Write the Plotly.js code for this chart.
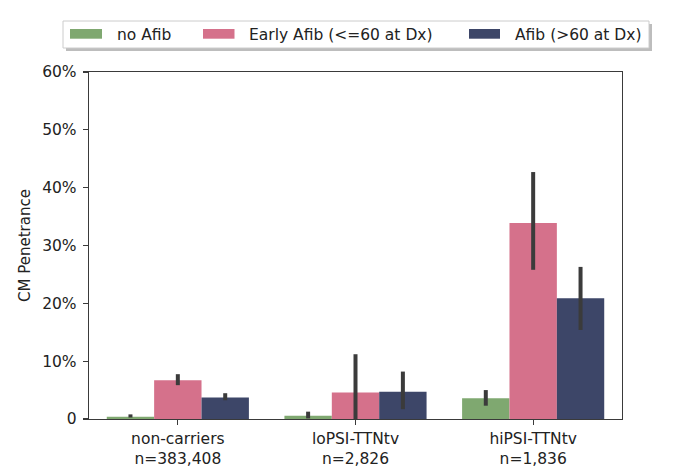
<!DOCTYPE html>
<html>
<head>
<meta charset="utf-8">
<script src="https://cdn.plot.ly/plotly-3.0.1.min.js"></script>
<style>
  html, body { margin: 0; padding: 0; background: #fff; }
  #chart { width: 680px; height: 473px; }
</style>
</head>
<body>
<div id="chart"></div>
<script>
// categories (two-line tick labels)
const categories = ['non-carriers<br>n=383,408', 'loPSI-TTNtv<br>n=2,826', 'hiPSI-TTNtv<br>n=1,836']
const seriesNames = ['no Afib', 'Early Afib (<=60 at Dx)', 'Afib (>60 at Dx)']

// penetrance and 95% CI
const noAfib = [0.004, 0.0055, 0.036]
const noAfibLow = [0.0025, 0.001, 0.023]
const noAfibHigh = [0.008, 0.0127, 0.050]

const earlyAfib = [0.067, 0.046, 0.339]
const earlyAfibLow = [0.0585, 0.0, 0.258]
const earlyAfibHigh = [0.0775, 0.112, 0.427]

const lateAfib = [0.037, 0.047, 0.209]
const lateAfibLow = [0.0324, 0.017, 0.154]
const lateAfibHigh = [0.0446, 0.082, 0.263]

const yTickVals = [0, 0.1, 0.2, 0.3, 0.4, 0.5, 0.6]
const yTickText = ['0', '10%', '20%', '30%', '40%', '50%', '60%']

const colors = ['#7fa870', '#d5718b', '#3d4668']
const errColor = '#3b3b3b'

// plot box in pixels
const plotL = 89, plotR = 622, plotT = 72, plotB = 419
const W = 680, H = 473
const px = (x) => (x - plotL) / (plotR - plotL)
const py = (y) => (plotB - y) / (plotB - plotT)

function makeTrace(i, vals, lo, hi) {
    return {
        type: 'bar',
        name: seriesNames[i],
        x: categories,
        y: vals,
        marker: {color: colors[i], line: {width: 0}},
        error_y: {
            type: 'data',
            symmetric: false,
            array: vals.map((v, k) => hi[k] - v),
            arrayminus: vals.map((v, k) => v - lo[k]),
            color: errColor,
            thickness: 4,
            width: 0
        },
        showlegend: false,
        hoverinfo: 'skip'
    }
}

const traces = [
    makeTrace(0, noAfib, noAfibLow, noAfibHigh),
    makeTrace(1, earlyAfib, earlyAfibLow, earlyAfibHigh),
    makeTrace(2, lateAfib, lateAfibLow, lateAfibHigh)
]

// hand-drawn legend box (matplotlib style, with shadow)
const legendPatchX = [[70, 102], [203, 234.5], [469, 500]]
const legendTextX = [115.5, 248, 513.5]

const shapes = [
    {type: 'rect', xref: 'paper', yref: 'paper', x0: px(66), x1: px(652), y0: py(51), y1: py(24),
        fillcolor: '#bdbdbd', line: {width: 0}, layer: 'above'},
    {type: 'rect', xref: 'paper', yref: 'paper', x0: px(63), x1: px(649), y0: py(48), y1: py(21),
        fillcolor: '#ffffff', line: {color: '#cccccc', width: 1}, layer: 'above'}
]
const annotations = []

seriesNames.forEach((name, i) => {
    shapes.push({
        type: 'rect', xref: 'paper', yref: 'paper',
        x0: px(legendPatchX[i][0]), x1: px(legendPatchX[i][1]),
        y0: py(38.7), y1: py(29),
        fillcolor: colors[i], line: {width: 0}, layer: 'above'
    })
    annotations.push({
        xref: 'paper', yref: 'paper', x: px(legendTextX[i]), y: py(34.5),
        xanchor: 'left', yanchor: 'middle', showarrow: false,
        xshift: -1,
        text: name.replace('<', '&lt;'),
        font: {family: 'DejaVu Sans', size: 15.5, color: '#222'}
    })
})

const layout = {
    width: W,
    height: H,
    margin: {l: plotL, r: W - plotR, t: plotT, b: H - plotB, pad: 0},
    paper_bgcolor: '#ffffff',
    plot_bgcolor: '#ffffff',
    font: {family: 'DejaVu Sans', color: '#222'},
    barmode: 'group',
    bargap: 0.2,
    bargroupgap: 0,
    xaxis: {
        range: [-0.5, 2.5],
        showgrid: false,
        zeroline: false,
        showline: true,
        mirror: true,
        linecolor: '#3a3a3a',
        linewidth: 1.3,
        ticks: 'outside',
        ticklen: 5,
        tickwidth: 1.3,
        tickcolor: '#3a3a3a',
        tickfont: {size: 15.5, color: '#222'}
    },
    yaxis: {
        range: [0, 0.6],
        tickvals: yTickVals,
        ticktext: yTickText,
        showgrid: false,
        zeroline: false,
        showline: true,
        mirror: true,
        linecolor: '#3a3a3a',
        linewidth: 1.3,
        ticks: 'outside',
        ticklen: 5,
        tickwidth: 1.3,
        tickcolor: '#3a3a3a',
        tickfont: {size: 15.5, color: '#222'},
        ticklabelstandoff: 3,
        title: {text: 'CM Penetrance', font: {size: 15, color: '#222'}, standoff: 8}
    },
    shapes: shapes,
    annotations: annotations
}

Plotly.newPlot('chart', traces, layout, {displayModeBar: false, staticPlot: true})
</script>
</body>
</html>
